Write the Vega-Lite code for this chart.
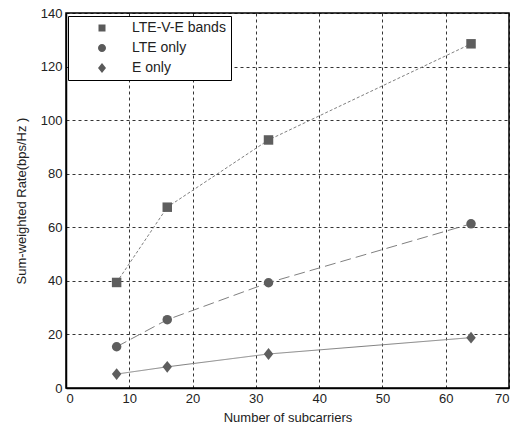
{
  "$schema": "https://vega.github.io/schema/vega-lite/v6.json",
  "width": 443,
  "height": 375,
  "autosize": {"type": "none"},
  "padding": {"left": 66, "top": 13, "right": 10, "bottom": 44},
  "background": "white",
  "config": {
    "font": "Liberation Sans",
    "view": {"stroke": "black", "strokeWidth": 1.5},
    "axis": {
      "labelFont": "Liberation Sans",
      "titleFont": "Liberation Sans",
      "labelFontSize": 13,
      "titleFontSize": 13,
      "titleFontWeight": "normal",
      "labelColor": "#222",
      "titleColor": "#222",
      "domainColor": "black",
      "domainWidth": 1.5,
      "ticks": false,
      "grid": true,
      "gridColor": "black",
      "gridDash": [3, 3],
      "gridWidth": 0.8,
      "gridOpacity": 1
    }
  },
  "data": {
    "values": [
      {"series": "LTE-V-E bands", "n": 8, "rate": 39.4},
      {"series": "LTE-V-E bands", "n": 16, "rate": 67.5},
      {"series": "LTE-V-E bands", "n": 32, "rate": 92.6},
      {"series": "LTE-V-E bands", "n": 64, "rate": 128.5},
      {"series": "LTE only", "n": 8, "rate": 15.4},
      {"series": "LTE only", "n": 16, "rate": 25.5},
      {"series": "LTE only", "n": 32, "rate": 39.3},
      {"series": "LTE only", "n": 64, "rate": 61.3},
      {"series": "E only", "n": 8, "rate": 5.2},
      {"series": "E only", "n": 16, "rate": 7.9},
      {"series": "E only", "n": 32, "rate": 12.7},
      {"series": "E only", "n": 64, "rate": 18.8}
    ]
  },
  "encoding": {
    "x": {
      "field": "n", "type": "quantitative",
      "scale": {"domain": [0, 70], "nice": false},
      "axis": {"values": [0, 10, 20, 30, 40, 50, 60, 70], "title": "Number of subcarriers", "labelPadding": 4, "titlePadding": 6}
    },
    "y": {
      "field": "rate", "type": "quantitative",
      "scale": {"domain": [0, 140], "nice": false},
      "axis": {"values": [0, 20, 40, 60, 80, 100, 120, 140], "title": "Sum-weighted Rate(bps/Hz )", "labelPadding": 4, "titlePadding": 12}
    }
  },
  "resolve": {"scale": {"shape": "independent"}},
  "layer": [
    {
      "mark": {"type": "line", "strokeWidth": 1, "color": "#808080"},
      "encoding": {
        "detail": {"field": "series", "type": "nominal"},
        "strokeDash": {
          "field": "series", "type": "nominal",
          "scale": {"range": [[1, 0], [11, 5], [3, 2]]},
          "legend": null
        }
      }
    },
    {
      "mark": {"type": "point", "filled": true, "opacity": 1, "size": 90, "color": "#5e5e5e"},
      "encoding": {
        "shape": {
          "field": "series", "type": "nominal",
          "scale": {"domain": ["LTE-V-E bands", "LTE only", "E only"], "range": ["square", "circle", "M0,-1.25L1,0L0,1.25L-1,0Z"]},
          "legend": null
        }
      }
    },
    {
      "transform": [{"filter": "datum.n < 0"}],
      "mark": {"type": "point", "filled": true, "opacity": 1, "fill": "#5a5a5a", "stroke": "#7a7a7a", "strokeWidth": 1},
      "encoding": {
        "shape": {
          "field": "series", "type": "nominal",
          "scale": {
            "domain": ["LTE-V-E bands", "LTE only", "E only"],
            "range": [
              "M-4.4,0H-3.8M-3.4,0H-2.8M-2.4,0H-1.8M-1.4,0H-0.8M0.8,0H1.4M1.8,0H2.4M2.8,0H3.4M3.8,0H4.4M-0.7,-0.7H0.7V0.7H-0.7Z",
              "M-4.4,0H4.4M0.8,0A0.8,0.8 0 1,1 -0.8,0A0.8,0.8 0 1,1 0.8,0Z",
              "M-4.4,0H4.4M0,-1L0.8,0L0,1L-0.8,0Z"
            ]
          },
          "legend": {
            "title": null,
            "orient": "none",
            "legendX": 2,
            "legendY": 3,
            "strokeColor": "black",
            "fillColor": "white",
            "padding": 5,
            "symbolSize": 100,
            "symbolOffset": 22,
            "labelOffset": 23,
            "symbolFillColor": "#5a5a5a",
            "symbolStrokeColor": "#7a7a7a",
            "symbolStrokeWidth": 1,
            "symbolOpacity": 1,
            "labelFont": "Liberation Sans",
            "labelFontSize": 14,
            "labelColor": "#222",
            "rowPadding": 6,
            "labelLimit": 300,
            "encode": {
              "legend": {
                "strokeWidth": {"value": 1.5}
              }
            }
          }
        }
      }
    }
  ]
}
